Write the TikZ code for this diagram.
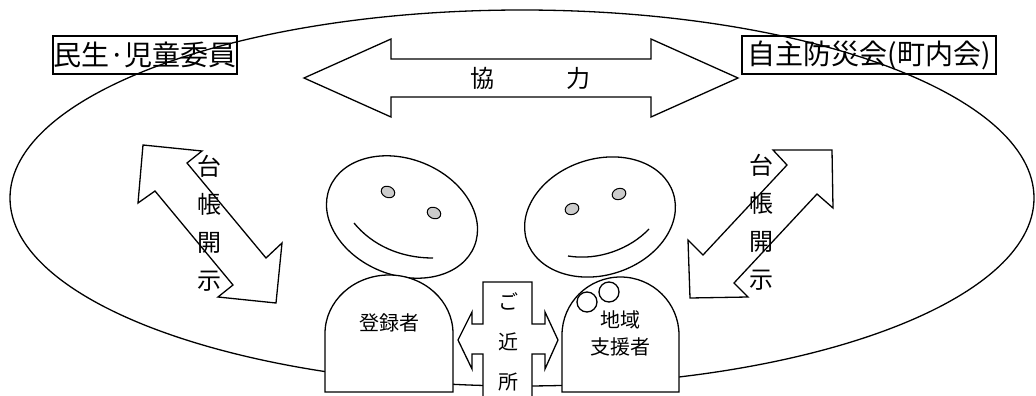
\documentclass[tikz,border=0pt]{standalone}
\usepackage{fontspec}
\newfontfamily\jp{Noto Sans CJK JP}
\begin{document}
\begin{tikzpicture}[x=1pt,y=-1pt,line width=1.3pt,line join=miter,
    part/.style={draw,fill=white},
    eye/.style={draw,fill=black!20,line width=1pt},
    groupbox/.style={draw,inner sep=0pt,minimum height=38pt,font=\jp\fontsize{28}{34}\selectfont},
    vtext/.style={align=center,inner sep=0pt,font=\jp\fontsize{24}{38}\selectfont},
    bodytext/.style={align=center,inner sep=0pt,font=\jp\fontsize{20}{27}\selectfont}]
    \useasboundingbox (0,0) rectangle (1036,396);
    \clip (0,0) rectangle (1036,396);
    % the whole neighbourhood
    \draw (522,198) ellipse (512 and 188);
    \node[groupbox,minimum width=184pt] (minsei) at (145,55) {民生·児童委員};
    \node[groupbox,minimum width=254pt] (bousai) at (869,55) {自主防災会(町内会)};
    % cooperation
    \draw[part] (304,78)--(391,39)--(391,59)--(651,59)--(651,39)--(738,78)
        --(651,117)--(651,97)--(391,97)--(391,117)--cycle;
    \node[font=\jp\fontsize{24}{30}\selectfont] (kyoryoku) at (530,78) {協　　　力};
    % ledger arrows
    \draw[part] (143,145)--(202,151)--(187,163)--(266,258)--(282,243)--(276,303)
        --(218,297)--(233,285)--(155,191)--(138,203)--cycle;
    \draw[part] (773,150)--(832,150)--(833,208)--(817,194)--(734,283)--(748,297)
        --(690,298)--(688,240)--(703,255)--(787,165)--cycle;
    \node[vtext] (daichoL) at (209,223) {台\\帳\\開\\示};
    \node[vtext] (daichoR) at (761,222) {台\\帳\\開\\示};
    % faces
    \draw[part,rotate around={-22:(402,217)}] (402,217) ellipse (78 and 58);
    \draw[eye,rotate around={-25:(388,192)}] (388,192) ellipse (7 and 5.5);
    \draw[eye,rotate around={-25:(434,213)}] (434,213) ellipse (7 and 5.5);
    \draw (354,223) .. controls (372,245) and (400,258) .. (433,258);
    \draw[part,rotate around={18:(600,217)}] (600,217) ellipse (77 and 58);
    \draw[eye,rotate around={20:(572,209)}] (572,209) ellipse (7 and 5.5);
    \draw[eye,rotate around={20:(619,194)}] (619,194) ellipse (7 and 5.5);
    \draw (568,256) .. controls (598,261) and (630,249) .. (649,229);
    % bodies
    \draw[part] (325,392)--(325,333.5) arc[start angle=180,end angle=360,x radius=64,y radius=58.5]
        --(453,392)--cycle;
    \node[bodytext] (touroku) at (389,323) {登録者};
    \draw[part] (562,392)--(562,335) arc[start angle=180,end angle=360,x radius=58.5,y radius=58]
        --(679,392)--cycle;
    \draw[part] (587,302) circle (10);
    \draw[part] (609,292) circle (10);
    \node[bodytext] (shien) at (620,333) {地域\\支援者};
    % neighbours
    \draw[part] (483,400)--(483,354)--(472,354)--(472,369)--(458,340)--(472,312)--(472,324)
        --(483,324)--(483,282)--(532,282)--(532,324)--(545,324)--(545,312)--(558,340)
        --(545,369)--(545,354)--(532,354)--(532,400);
    \node[align=center,inner sep=0pt,font=\jp\fontsize{20}{40}\selectfont] (kinjo) at (508,342) {ご\\近\\所};
\end{tikzpicture}
\end{document}
